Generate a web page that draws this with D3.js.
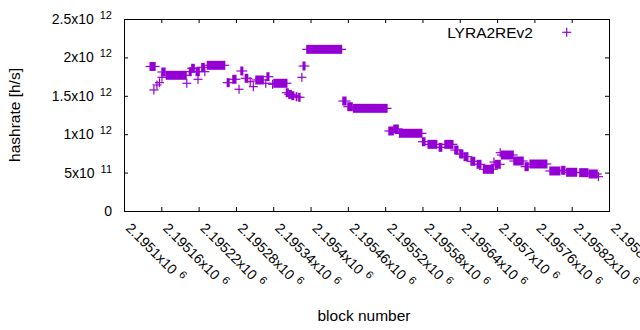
<!DOCTYPE html>
<html>
<head>
<meta charset="utf-8">
<script src="https://cdn.jsdelivr.net/npm/d3@7"></script>
<style>
  body { margin: 0; background: #fff; }
  svg { display: block; }
  text { font-family: "Liberation Sans", Arial, sans-serif; fill: #000; }
</style>
</head>
<body>
<div id="chart"></div>
<script>
// runs of consecutive blocks that share the same hashrate estimate
var runStart = [2195142, 2195148, 2195153, 2195157, 2195161, 2195161, 2195168, 2195201, 2195205, 2195209,
  2195216, 2195219, 2195225, 2195230, 2195234, 2195266, 2195275, 2195285, 2195288, 2195295,
  2195303, 2195308, 2195312, 2195328, 2195330, 2195339, 2195341, 2195361, 2195365, 2195370,
  2195377, 2195381, 2195386, 2195388, 2195394, 2195452, 2195460, 2195469, 2195526, 2195534,
  2195543, 2195580, 2195589, 2195607, 2195616, 2195632, 2195640, 2195647, 2195658, 2195668,
  2195678, 2195695, 2195697, 2195705, 2195707, 2195727, 2195745, 2195753, 2195785, 2195804,
  2195812, 2195833, 2195848, 2195863];
var runEnd = [2195150, 2195148, 2195153, 2195157, 2195161, 2195166, 2195200, 2195201, 2195208, 2195213,
  2195221, 2195219, 2195229, 2195230, 2195262, 2195269, 2195280, 2195285, 2195291, 2195299,
  2195303, 2195308, 2195324, 2195328, 2195333, 2195339, 2195362, 2195364, 2195369, 2195373,
  2195378, 2195383, 2195386, 2195391, 2195450, 2195457, 2195467, 2195523, 2195533, 2195541,
  2195579, 2195584, 2195603, 2195611, 2195629, 2195637, 2195645, 2195653, 2195664, 2195674,
  2195694, 2195695, 2195705, 2195705, 2195726, 2195742, 2195750, 2195780, 2195801, 2195809,
  2195828, 2195846, 2195861, 2195863];
var runRate = [1.882e12, 1.576e12, 1.641e12, 1.671e12, 1.741e12, 1.810e12, 1.767e12, 1.663e12, 1.814e12, 1.858e12,
  1.814e12, 1.715e12, 1.871e12, 1.814e12, 1.897e12, 1.671e12, 1.715e12, 1.585e12, 1.823e12, 1.728e12,
  1.684e12, 1.619e12, 1.706e12, 1.663e12, 1.749e12, 1.650e12, 1.663e12, 1.540e12, 1.519e12, 1.501e12,
  1.488e12, 1.481e12, 1.741e12, 1.888e12, 2.105e12, 1.432e12, 1.358e12, 1.337e12, 1.042e12, 1.068e12,
  1.012e12, 0.902e12, 0.868e12, 0.829e12, 0.868e12, 0.794e12, 0.742e12, 0.707e12, 0.647e12, 0.608e12,
  0.543e12, 0.638e12, 0.608e12, 0.759e12, 0.729e12, 0.651e12, 0.577e12, 0.612e12, 0.521e12, 0.530e12,
  0.504e12, 0.499e12, 0.482e12, 0.447e12];

var xTicks = [2195100, 2195160, 2195220, 2195280, 2195340, 2195400, 2195460,
  2195520, 2195580, 2195640, 2195700, 2195760, 2195820, 2195880];
var yTicks = [0, 5e11, 1e12, 1.5e12, 2e12, 2.5e12];
var seriesName = "LYRA2REv2";

var fullWidth = 640, fullHeight = 330;
var plotLeft = 124, plotRight = 609, plotTop = 19, plotBottom = 211;
var color = "#9400d3";
var arm = 4.5;

var svg = d3.select("#chart").append("svg")
  .attr("width", fullWidth)
  .attr("height", fullHeight);

var xScale = d3.scaleLinear().domain([2195100, 2195880]).range([plotLeft, plotRight]);
var yScale = d3.scaleLinear().domain([0, 2.5e12]).range([plotBottom, plotTop]);

// ticks on all four sides, pointing inwards
svg.append("g").attr("transform", "translate(0," + plotBottom + ")")
  .call(d3.axisBottom(xScale).tickValues(xTicks).tickSize(-4).tickFormat(""));
svg.append("g").attr("transform", "translate(0," + plotTop + ")")
  .call(d3.axisTop(xScale).tickValues(xTicks).tickSize(-4).tickFormat(""));
svg.append("g").attr("transform", "translate(" + plotLeft + ",0)")
  .call(d3.axisLeft(yScale).tickValues(yTicks).tickSize(-4).tickFormat(""));
svg.append("g").attr("transform", "translate(" + plotRight + ",0)")
  .call(d3.axisRight(yScale).tickValues(yTicks).tickSize(-4).tickFormat(""));
svg.selectAll(".domain").remove();
svg.selectAll(".tick line").attr("stroke", "#000");

svg.append("rect")
  .attr("x", plotLeft + 0.5).attr("y", plotTop + 0.5)
  .attr("width", plotRight - plotLeft).attr("height", plotBottom - plotTop)
  .attr("fill", "none").attr("stroke", "#000").attr("stroke-width", 1);

// split a value into gnuplot style mantissa x10^exp
function sci(v) {
  if (v == 0) return ["0", ""];
  var e = Math.floor(Math.log10(v) + 1e-9);
  var m = parseFloat((v / Math.pow(10, e)).toFixed(6)).toString();
  return [m + "x10", String(e)];
}

// y tick labels
yTicks.forEach(function(v) {
  var p = sci(v);
  var t = svg.append("text")
    .attr("x", 112)
    .attr("y", yScale(v) + 5)
    .attr("text-anchor", "end")
    .style("font-size", "14px");
  t.append("tspan").text(p[0]);
  if (p[1] != "") {
    t.append("tspan").attr("dx", 6).attr("dy", -5).style("font-size", "11px").text(p[1]);
  }
});

// x tick labels, rotated
xTicks.forEach(function(v) {
  var p = sci(v);
  var t = svg.append("text")
    .attr("transform", "translate(" + (xScale(v) + 1) + ",229) rotate(45)")
    .style("font-size", "14px");
  t.append("tspan").text(p[0]);
  t.append("tspan").attr("dx", 5).attr("dy", -5).style("font-size", "11px").text(p[1]);
});

// axis labels
svg.append("text")
  .attr("text-anchor", "middle")
  .style("font-size", "15.5px")
  .attr("transform", "translate(20,115) rotate(-90)")
  .text("hashrate [h/s]");

svg.append("text")
  .attr("text-anchor", "middle")
  .style("font-size", "15.5px")
  .attr("x", 364).attr("y", 321)
  .text("block number");

// the points: overlapping "+" markers of a run merge into a bar with arms
var pts = svg.append("g");
for (var i = 0; i < runStart.length; i++) {
  var x0 = xScale(runStart[i]), x1 = xScale(runEnd[i]), yy = yScale(runRate[i]);
  pts.append("line")
    .attr("x1", x0 - arm).attr("x2", x1 + arm)
    .attr("y1", yy).attr("y2", yy)
    .attr("stroke", color).attr("stroke-width", 1.2);
  pts.append("rect")
    .attr("x", x0 - 0.6).attr("width", x1 - x0 + 1.2)
    .attr("y", yy - arm).attr("height", 2 * arm)
    .attr("fill", color);
}

// legend
svg.append("text")
  .attr("x", 533).attr("y", 37.5)
  .attr("text-anchor", "end")
  .style("font-size", "15.5px")
  .text(seriesName);
var lx = 566.7, ly = 32.3;
svg.append("line").attr("x1", lx - arm).attr("x2", lx + arm).attr("y1", ly).attr("y2", ly)
  .attr("stroke", color).attr("stroke-width", 1.2);
svg.append("line").attr("x1", lx).attr("x2", lx).attr("y1", ly - arm).attr("y2", ly + arm)
  .attr("stroke", color).attr("stroke-width", 1.2);
</script>
</body>
</html>
